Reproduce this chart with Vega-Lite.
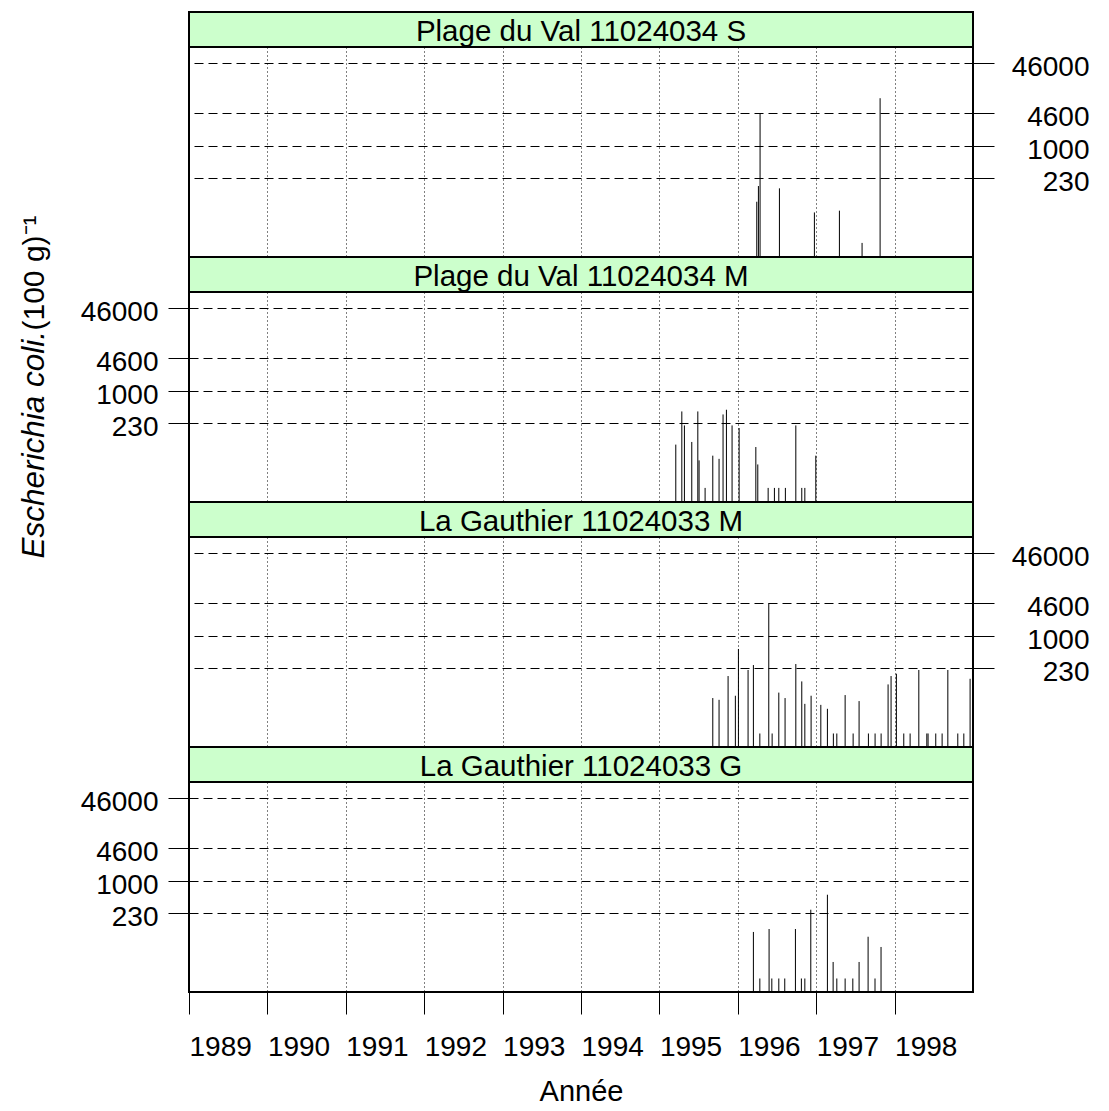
{
  "$schema": "https://vega.github.io/schema/vega-lite/v6.json",
  "background": "white",
  "padding": {"left": 16, "top": 11, "right": 0, "bottom": 0},
  "config": {
    "font": "Liberation Sans",
    "view": {"stroke": "black", "strokeWidth": 2},
    "axis": {"labelColor": "black", "titleColor": "black", "tickColor": "black", "labelFont": "Liberation Sans", "titleFont": "Liberation Sans", "titleFontWeight": "normal"}
  },
  "datasets": {
    "ecoli": [
      {"site": "Plage du Val 11024034 S", "annee": 1996.242, "ecoli": 77},
      {"site": "Plage du Val 11024034 S", "annee": 1996.263, "ecoli": 159},
      {"site": "Plage du Val 11024034 S", "annee": 1996.284, "ecoli": 4600},
      {"site": "Plage du Val 11024034 S", "annee": 1996.531, "ecoli": 143},
      {"site": "Plage du Val 11024034 S", "annee": 1996.977, "ecoli": 47},
      {"site": "Plage du Val 11024034 S", "annee": 1997.296, "ecoli": 51},
      {"site": "Plage du Val 11024034 S", "annee": 1997.585, "ecoli": 11.5},
      {"site": "Plage du Val 11024034 S", "annee": 1997.815, "ecoli": 9180},

      {"site": "Plage du Val 11024034 M", "annee": 1995.209, "ecoli": 85},
      {"site": "Plage du Val 11024034 M", "annee": 1995.286, "ecoli": 393},
      {"site": "Plage du Val 11024034 M", "annee": 1995.319, "ecoli": 206},
      {"site": "Plage du Val 11024034 M", "annee": 1995.413, "ecoli": 96},
      {"site": "Plage du Val 11024034 M", "annee": 1995.490, "ecoli": 393},
      {"site": "Plage du Val 11024034 M", "annee": 1995.506, "ecoli": 41},
      {"site": "Plage du Val 11024034 M", "annee": 1995.583, "ecoli": 11.5},
      {"site": "Plage du Val 11024034 M", "annee": 1995.681, "ecoli": 51},
      {"site": "Plage du Val 11024034 M", "annee": 1995.761, "ecoli": 44},
      {"site": "Plage du Val 11024034 M", "annee": 1995.812, "ecoli": 342},
      {"site": "Plage du Val 11024034 M", "annee": 1995.855, "ecoli": 425},
      {"site": "Plage du Val 11024034 M", "annee": 1995.927, "ecoli": 206},
      {"site": "Plage du Val 11024034 M", "annee": 1996.017, "ecoli": 183},
      {"site": "Plage du Val 11024034 M", "annee": 1996.230, "ecoli": 76},
      {"site": "Plage du Val 11024034 M", "annee": 1996.255, "ecoli": 34},
      {"site": "Plage du Val 11024034 M", "annee": 1996.387, "ecoli": 11.5},
      {"site": "Plage du Val 11024034 M", "annee": 1996.467, "ecoli": 11.5},
      {"site": "Plage du Val 11024034 M", "annee": 1996.523, "ecoli": 11.5},
      {"site": "Plage du Val 11024034 M", "annee": 1996.607, "ecoli": 11.5},
      {"site": "Plage du Val 11024034 M", "annee": 1996.740, "ecoli": 206},
      {"site": "Plage du Val 11024034 M", "annee": 1996.816, "ecoli": 11.5},
      {"site": "Plage du Val 11024034 M", "annee": 1996.855, "ecoli": 11.5},
      {"site": "Plage du Val 11024034 M", "annee": 1996.995, "ecoli": 51},

      {"site": "La Gauthier 11024033 M", "annee": 1995.681, "ecoli": 57.5},
      {"site": "La Gauthier 11024033 M", "annee": 1995.761, "ecoli": 53},
      {"site": "La Gauthier 11024033 M", "annee": 1995.876, "ecoli": 159},
      {"site": "La Gauthier 11024033 M", "annee": 1995.969, "ecoli": 64},
      {"site": "La Gauthier 11024033 M", "annee": 1996.008, "ecoli": 555},
      {"site": "La Gauthier 11024033 M", "annee": 1996.131, "ecoli": 210},
      {"site": "La Gauthier 11024033 M", "annee": 1996.199, "ecoli": 264},
      {"site": "La Gauthier 11024033 M", "annee": 1996.281, "ecoli": 11.2},
      {"site": "La Gauthier 11024033 M", "annee": 1996.395, "ecoli": 4600},
      {"site": "La Gauthier 11024033 M", "annee": 1996.438, "ecoli": 11.2},
      {"site": "La Gauthier 11024033 M", "annee": 1996.523, "ecoli": 74},
      {"site": "La Gauthier 11024033 M", "annee": 1996.603, "ecoli": 57.5},
      {"site": "La Gauthier 11024033 M", "annee": 1996.740, "ecoli": 277},
      {"site": "La Gauthier 11024033 M", "annee": 1996.816, "ecoli": 124},
      {"site": "La Gauthier 11024033 M", "annee": 1996.855, "ecoli": 44},
      {"site": "La Gauthier 11024033 M", "annee": 1996.935, "ecoli": 64},
      {"site": "La Gauthier 11024033 M", "annee": 1997.059, "ecoli": 42},
      {"site": "La Gauthier 11024033 M", "annee": 1997.143, "ecoli": 35},
      {"site": "La Gauthier 11024033 M", "annee": 1997.219, "ecoli": 11.2},
      {"site": "La Gauthier 11024033 M", "annee": 1997.263, "ecoli": 11.2},
      {"site": "La Gauthier 11024033 M", "annee": 1997.369, "ecoli": 66},
      {"site": "La Gauthier 11024033 M", "annee": 1997.471, "ecoli": 11.2},
      {"site": "La Gauthier 11024033 M", "annee": 1997.547, "ecoli": 50},
      {"site": "La Gauthier 11024033 M", "annee": 1997.666, "ecoli": 11.2},
      {"site": "La Gauthier 11024033 M", "annee": 1997.751, "ecoli": 11.2},
      {"site": "La Gauthier 11024033 M", "annee": 1997.828, "ecoli": 11.2},
      {"site": "La Gauthier 11024033 M", "annee": 1997.917, "ecoli": 108},
      {"site": "La Gauthier 11024033 M", "annee": 1997.955, "ecoli": 159},
      {"site": "La Gauthier 11024033 M", "annee": 1998.023, "ecoli": 177},
      {"site": "La Gauthier 11024033 M", "annee": 1998.117, "ecoli": 11.2},
      {"site": "La Gauthier 11024033 M", "annee": 1998.198, "ecoli": 11.2},
      {"site": "La Gauthier 11024033 M", "annee": 1998.309, "ecoli": 210},
      {"site": "La Gauthier 11024033 M", "annee": 1998.411, "ecoli": 11.2},
      {"site": "La Gauthier 11024033 M", "annee": 1998.427, "ecoli": 11.2},
      {"site": "La Gauthier 11024033 M", "annee": 1998.525, "ecoli": 11.2},
      {"site": "La Gauthier 11024033 M", "annee": 1998.606, "ecoli": 11.2},
      {"site": "La Gauthier 11024033 M", "annee": 1998.679, "ecoli": 210},
      {"site": "La Gauthier 11024033 M", "annee": 1998.806, "ecoli": 11.2},
      {"site": "La Gauthier 11024033 M", "annee": 1998.883, "ecoli": 11.2},
      {"site": "La Gauthier 11024033 M", "annee": 1998.963, "ecoli": 140},

      {"site": "La Gauthier 11024033 G", "annee": 1996.199, "ecoli": 96},
      {"site": "La Gauthier 11024033 G", "annee": 1996.281, "ecoli": 11.2},
      {"site": "La Gauthier 11024033 G", "annee": 1996.399, "ecoli": 110},
      {"site": "La Gauthier 11024033 G", "annee": 1996.434, "ecoli": 11.2},
      {"site": "La Gauthier 11024033 G", "annee": 1996.523, "ecoli": 11.2},
      {"site": "La Gauthier 11024033 G", "annee": 1996.599, "ecoli": 11.2},
      {"site": "La Gauthier 11024033 G", "annee": 1996.735, "ecoli": 110},
      {"site": "La Gauthier 11024033 G", "annee": 1996.811, "ecoli": 11.2},
      {"site": "La Gauthier 11024033 G", "annee": 1996.855, "ecoli": 11.2},
      {"site": "La Gauthier 11024033 G", "annee": 1996.931, "ecoli": 268},
      {"site": "La Gauthier 11024033 G", "annee": 1997.143, "ecoli": 536},
      {"site": "La Gauthier 11024033 G", "annee": 1997.216, "ecoli": 24},
      {"site": "La Gauthier 11024033 G", "annee": 1997.263, "ecoli": 11.2},
      {"site": "La Gauthier 11024033 G", "annee": 1997.369, "ecoli": 11.2},
      {"site": "La Gauthier 11024033 G", "annee": 1997.467, "ecoli": 11.2},
      {"site": "La Gauthier 11024033 G", "annee": 1997.547, "ecoli": 24},
      {"site": "La Gauthier 11024033 G", "annee": 1997.662, "ecoli": 77},
      {"site": "La Gauthier 11024033 G", "annee": 1997.750, "ecoli": 11.2},
      {"site": "La Gauthier 11024033 G", "annee": 1997.827, "ecoli": 48}
    ]
  },
  "vconcat": [
    {
      "width": 784, "height": 35,
      "data": {"values": [{"site": "Plage du Val 11024034 S"}]},
      "view": {"fill": "#ccffcc", "stroke": "black", "strokeWidth": 2},
      "mark": {"type": "text", "fontSize": 29.5, "color": "black", "dy": 2},
      "encoding": {"text": {"field": "site"}}
    },
    {
      "width": 784, "height": 210,
      "data": {"name": "ecoli"},
      "transform": [{"filter": "datum.site === 'Plage du Val 11024034 S'"}],
      "layer": [
        {
          "mark": {"type": "rule", "color": "black", "strokeWidth": 1},
          "encoding": {
            "x": {"field": "annee", "type": "quantitative", "scale": {"domain": [1989, 1999], "nice": false, "zero": false},
                  "axis": {"values": [1990, 1991, 1992, 1993, 1994, 1995, 1996, 1997, 1998], "grid": true, "gridDash": [1, 3], "gridColor": "black", "gridOpacity": 1, "labels": false, "ticks": false, "domain": false, "title": null}},
            "y": {"field": "ecoli", "type": "quantitative", "scale": {"type": "log", "domain": [6, 97700], "nice": false},
                  "axis": {"orient": "right", "values": [230, 1000, 4600, 46000], "format": "d", "tickSize": 21, "labelFontSize": 28, "labelAlign": "right", "labelPadding": 95, "labelOffset": 4, "domain": false, "grid": true, "gridDash": [9, 5], "gridColor": "black", "gridOpacity": 1, "title": null}},
            "y2": {"datum": 6}
          }
        },
        {
          "mark": {"type": "rule", "opacity": 0},
          "encoding": {
            "x": {"field": "annee", "type": "quantitative"},
            "y": {"field": "ecoli", "type": "quantitative", "scale": {"type": "log", "domain": [6, 97700], "nice": false},
                  "axis": {"orient": "left", "labels": false, "ticks": false, "domain": false, "grid": false, "title": "(100 g)⁻¹", "titleFontSize": 30, "titleAngle": 270, "titleAlign": "left", "titleBaseline": "alphabetic", "titleX": -146, "titleY": 283}},
            "y2": {"datum": 6}
          }
        }
      ],
      "resolve": {"axis": {"y": "independent"}}
    },
    {
      "width": 784, "height": 35,
      "data": {"values": [{"site": "Plage du Val 11024034 M"}]},
      "view": {"fill": "#ccffcc", "stroke": "black", "strokeWidth": 2},
      "mark": {"type": "text", "fontSize": 29.5, "color": "black", "dy": 2},
      "encoding": {"text": {"field": "site"}}
    },
    {
      "width": 784, "height": 210,
      "data": {"name": "ecoli"},
      "transform": [{"filter": "datum.site === 'Plage du Val 11024034 M'"}],
      "mark": {"type": "rule", "color": "black", "strokeWidth": 1},
      "encoding": {
        "x": {"field": "annee", "type": "quantitative", "scale": {"domain": [1989, 1999], "nice": false, "zero": false},
              "axis": {"values": [1990, 1991, 1992, 1993, 1994, 1995, 1996, 1997, 1998], "grid": true, "gridDash": [1, 3], "gridColor": "black", "gridOpacity": 1, "labels": false, "ticks": false, "domain": false, "title": null}},
        "y": {"field": "ecoli", "type": "quantitative", "scale": {"type": "log", "domain": [6, 97700], "nice": false},
              "axis": {"orient": "left", "values": [230, 1000, 4600, 46000], "format": "d", "tickSize": 21, "labelFontSize": 28, "labelPadding": 10, "labelOffset": 4.5, "domain": false, "grid": true, "gridDash": [9, 5], "gridColor": "black", "gridOpacity": 1,
                       "title": "Escherichia coli.", "titleFontSize": 31.5, "titleFontStyle": "italic", "titleAngle": 270, "titleAlign": "left", "titleBaseline": "alphabetic", "titleX": -146, "titleY": 266}},
        "y2": {"datum": 6}
      }
    },
    {
      "width": 784, "height": 35,
      "data": {"values": [{"site": "La Gauthier 11024033 M"}]},
      "view": {"fill": "#ccffcc", "stroke": "black", "strokeWidth": 2},
      "mark": {"type": "text", "fontSize": 29.5, "color": "black", "dy": 2},
      "encoding": {"text": {"field": "site"}}
    },
    {
      "width": 784, "height": 210,
      "data": {"name": "ecoli"},
      "transform": [{"filter": "datum.site === 'La Gauthier 11024033 M'"}],
      "mark": {"type": "rule", "color": "black", "strokeWidth": 1},
      "encoding": {
        "x": {"field": "annee", "type": "quantitative", "scale": {"domain": [1989, 1999], "nice": false, "zero": false},
              "axis": {"values": [1990, 1991, 1992, 1993, 1994, 1995, 1996, 1997, 1998], "grid": true, "gridDash": [1, 3], "gridColor": "black", "gridOpacity": 1, "labels": false, "ticks": false, "domain": false, "title": null}},
        "y": {"field": "ecoli", "type": "quantitative", "scale": {"type": "log", "domain": [6, 97700], "nice": false},
              "axis": {"orient": "right", "values": [230, 1000, 4600, 46000], "format": "d", "tickSize": 21, "labelFontSize": 28, "labelAlign": "right", "labelPadding": 95, "labelOffset": 4, "domain": false, "grid": true, "gridDash": [9, 5], "gridColor": "black", "gridOpacity": 1, "title": null}},
        "y2": {"datum": 6}
      }
    },
    {
      "width": 784, "height": 35,
      "data": {"values": [{"site": "La Gauthier 11024033 G"}]},
      "view": {"fill": "#ccffcc", "stroke": "black", "strokeWidth": 2},
      "mark": {"type": "text", "fontSize": 29.5, "color": "black", "dy": 2},
      "encoding": {"text": {"field": "site"}}
    },
    {
      "width": 784, "height": 210,
      "data": {"name": "ecoli"},
      "transform": [{"filter": "datum.site === 'La Gauthier 11024033 G'"}],
      "mark": {"type": "rule", "color": "black", "strokeWidth": 1},
      "encoding": {
        "x": {"field": "annee", "type": "quantitative", "scale": {"domain": [1989, 1999], "nice": false, "zero": false},
              "axis": {"values": [1989, 1990, 1991, 1992, 1993, 1994, 1995, 1996, 1997, 1998], "format": "d", "grid": true, "gridDash": [1, 3], "gridColor": "black", "gridOpacity": 1, "tickSize": 22, "labelFontSize": 28, "labelAlign": "left", "labelPadding": 19, "labelFlush": false, "labelOverlap": false, "domain": false,
                       "title": "Année", "titleFontSize": 29, "titlePadding": 16}},
        "y": {"field": "ecoli", "type": "quantitative", "scale": {"type": "log", "domain": [6, 97700], "nice": false},
              "axis": {"orient": "left", "values": [230, 1000, 4600, 46000], "format": "d", "tickSize": 21, "labelFontSize": 28, "labelPadding": 10, "labelOffset": 4.5, "domain": false, "grid": true, "gridDash": [9, 5], "gridColor": "black", "gridOpacity": 1, "title": null}},
        "y2": {"datum": 6}
      }
    }
  ],
  "spacing": 0,
  "bounds": "flush"
}
